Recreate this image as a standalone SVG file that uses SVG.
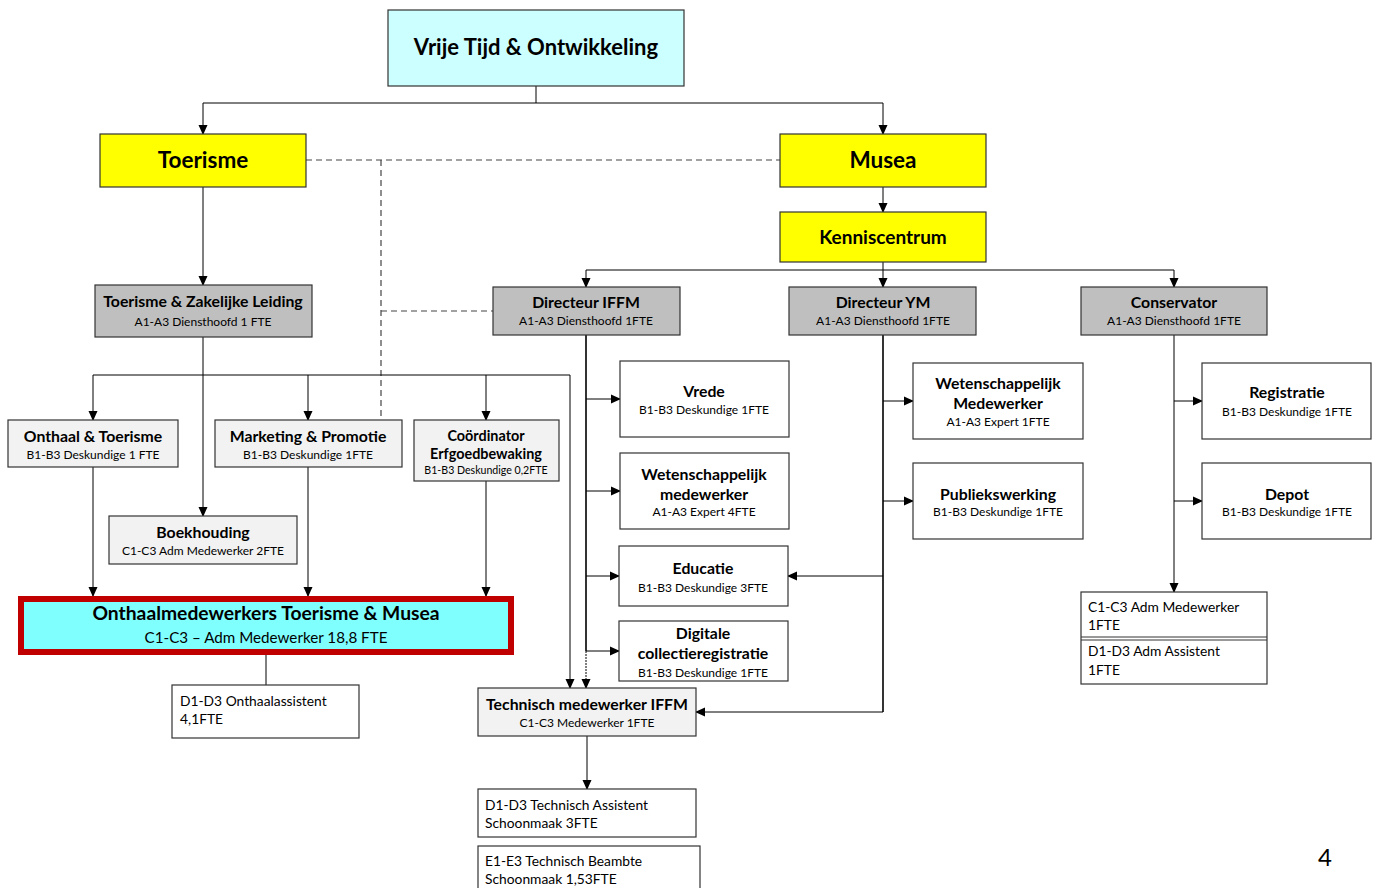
<svg xmlns="http://www.w3.org/2000/svg" width="1378" height="888" viewBox="0 0 1378 888">
<defs>
<marker id="arr" markerWidth="10" markerHeight="10" refX="9" refY="5" orient="auto" markerUnits="userSpaceOnUse">
<path d="M0,0.5 L10,5 L0,9.5 Z" fill="#000"/>
</marker>
<style>
text{font-family:Lato,"Liberation Sans",sans-serif;fill:#000;text-anchor:middle}
.t{font-weight:bold;font-size:15.8px}
.s{font-size:12px}
.xs{font-size:10.6px}
.l{text-anchor:start;font-size:13.8px}
.box{stroke:#333;stroke-width:1.2}
.gray{fill:#bfbfbf}
.light{fill:#f2f2f2}
.white{fill:#fff}
.yel{fill:#ffff00}
.c{fill:none;stroke:#000;stroke-width:1}
.thick{stroke-width:1.6}
.dash{fill:none;stroke:#444;stroke-width:1.2;stroke-dasharray:6,4}
.ar{marker-end:url(#arr)}
</style>
</defs>
<rect width="1378" height="888" fill="#fff"/>

<g id="connectors">
<path class="c" d="M536,86 V103 M203,103 H883"/>
<path class="c ar" d="M203,103 V134"/>
<path class="c ar" d="M883,103 V134"/>
<path class="dash" d="M306,160 H780 M381,160 V420 M381,311 H493"/>
<path class="c ar" d="M203,187 V285"/>
<path class="c ar" d="M883,187 V212"/>
<path class="c" d="M883,262 V270 M586,270 H1174"/>
<path class="c ar" d="M586,270 V287"/>
<path class="c ar" d="M883,270 V287"/>
<path class="c ar" d="M1174,270 V287"/>
<path class="c" d="M203,337 V375 M93,375 H570"/>
<path class="c ar" d="M93,375 V420"/>
<path class="c ar" d="M308,375 V420"/>
<path class="c ar" d="M486,375 V420"/>
<path class="c ar" d="M203,375 V516"/>
<path class="c ar" d="M570,375 V688"/>
<path class="c ar" d="M93,467 V596"/>
<path class="c ar" d="M308,467 V596"/>
<path class="c ar" d="M486,481 V596"/>
<path class="c" d="M266,655 V685"/>
<path class="c thick" d="M586,335 V651"/>
<path class="c ar" d="M586,651 V688" stroke-dasharray="2,1"/>
<path class="c ar" d="M586,399 H620"/>
<path class="c ar" d="M586,491 H620"/>
<path class="c ar" d="M586,576 H619"/>
<path class="c ar" d="M586,651 H619"/>
<path class="c thick" d="M883,335 V712"/>
<path class="c ar" d="M883,401 H913"/>
<path class="c ar" d="M883,501 H913"/>
<path class="c ar" d="M883,576 H788"/>
<path class="c ar" d="M883,712 H696"/>
<path class="c ar" d="M1174,335 V592"/>
<path class="c ar" d="M1174,401 H1202"/>
<path class="c ar" d="M1174,501 H1202"/>
<path class="c ar" d="M587,736 V789"/>
</g>

<g id="vrije-tijd">
<rect class="box" x="388" y="10" width="296" height="76" fill="#ccffff"/>
<text x="536" y="55" style="font-weight:bold;font-size:22px">Vrije Tijd &amp; Ontwikkeling</text>
</g>
<g id="toerisme">
<rect class="box yel" x="100" y="134" width="206" height="53"/>
<text x="203" y="168" style="font-weight:bold;font-size:22.5px">Toerisme</text>
</g>
<g id="musea">
<rect class="box yel" x="780" y="134" width="206" height="53"/>
<text x="883" y="168" style="font-weight:bold;font-size:22.5px">Musea</text>
</g>
<g id="kenniscentrum">
<rect class="box yel" x="780" y="212" width="206" height="50"/>
<text x="883" y="244" style="font-weight:bold;font-size:19px">Kenniscentrum</text>
</g>
<g id="tzl">
<rect class="box gray" x="95" y="285" width="217" height="52"/>
<text class="t" x="203" y="307">Toerisme &amp; Zakelijke Leiding</text>
<text class="s" x="203" y="326">A1-A3 Diensthoofd 1 FTE</text>
</g>
<g id="dir-iffm">
<rect class="box gray" x="493" y="287" width="187" height="48"/>
<text class="t" x="586" y="308">Directeur IFFM</text>
<text class="s" x="586" y="325">A1-A3 Diensthoofd 1FTE</text>
</g>
<g id="dir-ym">
<rect class="box gray" x="789" y="287" width="187" height="48"/>
<text class="t" x="883" y="308">Directeur YM</text>
<text class="s" x="883" y="325">A1-A3 Diensthoofd 1FTE</text>
</g>
<g id="conservator">
<rect class="box gray" x="1081" y="287" width="186" height="48"/>
<text class="t" x="1174" y="308">Conservator</text>
<text class="s" x="1174" y="325">A1-A3 Diensthoofd 1FTE</text>
</g>
<g id="onthaal-toerisme">
<rect class="box light" x="8" y="420" width="170" height="47"/>
<text class="t" x="93" y="442">Onthaal &amp; Toerisme</text>
<text class="s" x="93" y="459">B1-B3 Deskundige 1 FTE</text>
</g>
<g id="marketing">
<rect class="box light" x="215" y="420" width="187" height="47"/>
<text class="t" x="308" y="442">Marketing &amp; Promotie</text>
<text class="s" x="308" y="459">B1-B3 Deskundige 1FTE</text>
</g>
<g id="coordinator">
<rect class="box light" x="414" y="420" width="145" height="61"/>
<text class="t" x="486" y="441" style="font-size:14.4px">Coördinator</text>
<text class="t" x="486" y="459" style="font-size:14.4px">Erfgoedbewaking</text>
<text class="xs" x="486" y="474">B1-B3 Deskundige 0,2FTE</text>
</g>
<g id="boekhouding">
<rect class="box light" x="109" y="516" width="188" height="48"/>
<text class="t" x="203" y="538">Boekhouding</text>
<text class="s" x="203" y="555">C1-C3 Adm Medewerker 2FTE</text>
</g>
<g id="onthaalmedewerkers">
<rect x="21" y="599" width="490" height="53" fill="#80ffff" stroke="#c00000" stroke-width="6"/>
<text x="266" y="620" style="font-weight:bold;font-size:19.3px">Onthaalmedewerkers Toerisme &amp; Musea</text>
<text x="266" y="643" style="font-size:15.2px">C1-C3 – Adm Medewerker 18,8 FTE</text>
</g>
<g id="onthaalassistent">
<rect class="box white" x="172" y="685" width="187" height="53"/>
<text class="l" x="180" y="706">D1-D3 Onthaalassistent</text>
<text class="l" x="180" y="724">4,1FTE</text>
</g>
<g id="vrede">
<rect class="box white" x="620" y="361" width="169" height="76"/>
<text class="t" x="704" y="397">Vrede</text>
<text class="s" x="704" y="414">B1-B3 Deskundige 1FTE</text>
</g>
<g id="wet-iffm">
<rect class="box white" x="620" y="453" width="169" height="76"/>
<text class="t" x="704" y="480">Wetenschappelijk</text>
<text class="t" x="704" y="500">medewerker</text>
<text class="s" x="704" y="516">A1-A3 Expert 4FTE</text>
</g>
<g id="educatie">
<rect class="box white" x="619" y="546" width="169" height="60"/>
<text class="t" x="703" y="574">Educatie</text>
<text class="s" x="703" y="592">B1-B3 Deskundige 3FTE</text>
</g>
<g id="digitale">
<rect class="box white" x="619" y="621" width="169" height="60"/>
<text class="t" x="703" y="639">Digitale</text>
<text class="t" x="703" y="659">collectieregistratie</text>
<text class="s" x="703" y="677">B1-B3 Deskundige 1FTE</text>
</g>
<g id="technisch">
<rect class="box light" x="478" y="688" width="218" height="48"/>
<text class="t" x="587" y="710">Technisch medewerker IFFM</text>
<text class="s" x="587" y="727">C1-C3 Medewerker 1FTE</text>
</g>
<g id="tech-assistent">
<rect class="box white" x="478" y="789" width="218" height="48"/>
<text class="l" x="485" y="810">D1-D3 Technisch Assistent</text>
<text class="l" x="485" y="828">Schoonmaak 3FTE</text>
</g>
<g id="tech-beambte">
<rect class="box white" x="478" y="846" width="222" height="50"/>
<text class="l" x="485" y="866">E1-E3 Technisch Beambte</text>
<text class="l" x="485" y="884">Schoonmaak 1,53FTE</text>
</g>
<g id="wet-ym">
<rect class="box white" x="913" y="363" width="170" height="76"/>
<text class="t" x="998" y="389">Wetenschappelijk</text>
<text class="t" x="998" y="409">Medewerker</text>
<text class="s" x="998" y="426">A1-A3 Expert 1FTE</text>
</g>
<g id="publiekswerking">
<rect class="box white" x="913" y="463" width="170" height="76"/>
<text class="t" x="998" y="500">Publiekswerking</text>
<text class="s" x="998" y="516">B1-B3 Deskundige 1FTE</text>
</g>
<g id="registratie">
<rect class="box white" x="1202" y="363" width="169" height="76"/>
<text class="t" x="1287" y="398">Registratie</text>
<text class="s" x="1287" y="416">B1-B3 Deskundige 1FTE</text>
</g>
<g id="depot">
<rect class="box white" x="1202" y="463" width="169" height="76"/>
<text class="t" x="1287" y="500">Depot</text>
<text class="s" x="1287" y="516">B1-B3 Deskundige 1FTE</text>
</g>
<g id="adm">
<rect class="box white" x="1081" y="592" width="186" height="92"/>
<path d="M1081,637 H1267 M1081,640 H1267" stroke="#333" stroke-width="1"/>
<text class="l" x="1088" y="612">C1-C3 Adm Medewerker</text>
<text class="l" x="1088" y="630">1FTE</text>
<text class="l" x="1088" y="656">D1-D3 Adm Assistent</text>
<text class="l" x="1088" y="675">1FTE</text>
</g>
<text x="1325" y="866" style="font-size:24px">4</text>
</svg>
